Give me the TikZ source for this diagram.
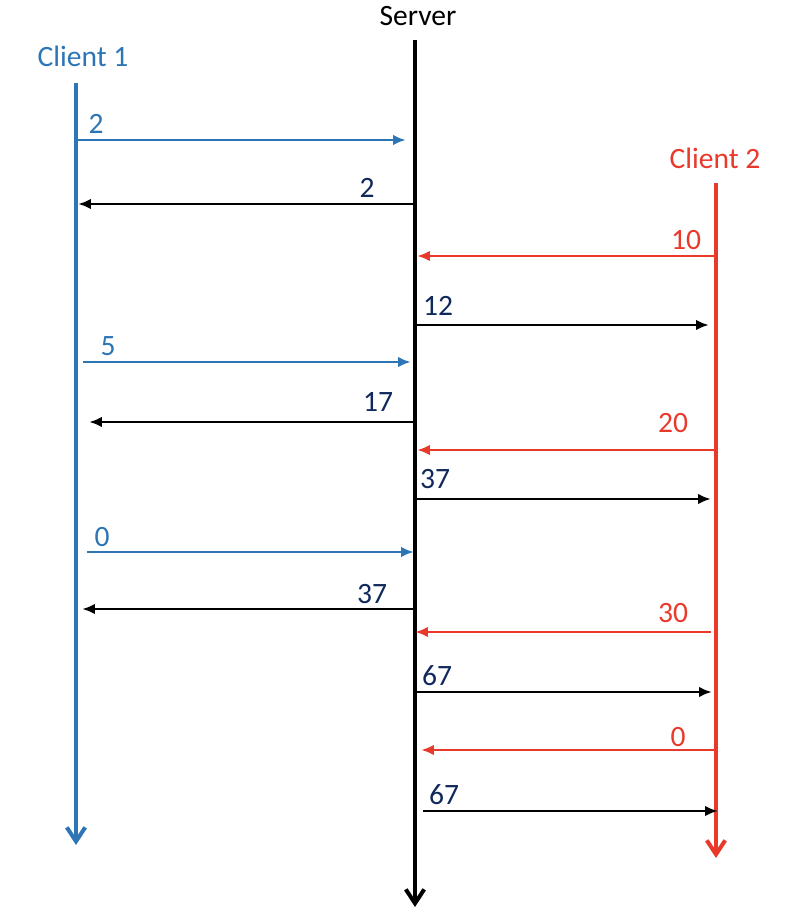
\documentclass[tikz,border=0pt]{standalone}
\usepackage{fontspec}
\setmainfont{Carlito}
\usetikzlibrary{arrows.meta}
\definecolor{cblue}{HTML}{2E75B6}
\definecolor{cred}{HTML}{E8392B}
\definecolor{cnavy}{HTML}{10285C}
\tikzset {>={Latex[length=3.2mm,width=2.6mm]}}

\begin{document}
\begin{tikzpicture}[x=0.025cm,y=-0.025cm,
  lane/.style={line width=1mm,-{Straight Barb[length=3.5mm,width=4.6mm]}},
  msg/.style={line width=0.7mm,->},
  lbl/.style={font=\fontsize{21}{25}\selectfont,inner sep=0pt}]
\useasboundingbox (0,0) rectangle (800,910);
% the three lifelines
\node[lbl] (server) at (418,16) {Server};
\node[lbl,cblue] (client1) at (83,56) {Client 1};
\node[lbl,cred] (client2) at (715,158) {Client 2};
\coordinate (s top) at (415,40);  \coordinate (s bot) at (415,907);
\coordinate (c1 top) at (76,83);  \coordinate (c1 bot) at (76,845);
\coordinate (c2 top) at (716,183); \coordinate (c2 bot) at (716,858);
\draw[lane] (s top) -- (s bot);
\draw[lane,cblue] (c1 top) -- (c1 bot);
\draw[lane,cred] (c2 top) -- (c2 bot);
% messages: number/colour/from/to/y/text/text colour/text x/text y
\foreach \n/\c/\xa/\xb/\y/\t/\tc/\lx/\ly in {
  1/cblue/76/406/140/2/cblue/96/124,
  2/black/415/78/204/2/cnavy/367/188,
  3/cred/716/417/256/10/cred/686/240,
  4/black/415/709/325/12/cnavy/438/306,
  5/cblue/83/411/362/5/cblue/108/346,
  6/black/415/89/422/17/cnavy/378/402,
  7/cred/716/417/450/20/cred/673/423,
  8/black/415/711/499/37/cnavy/435/479,
  9/cblue/87/414/552/0/cblue/102/537,
  10/black/413/82/609/37/cnavy/372/594,
  11/cred/711/415/632/30/cred/673/613,
  12/black/415/712/692/67/cnavy/437/676,
  13/cred/716/421/750/0/cred/678/737,
  14/black/423/718/811/67/cnavy/444/795} {
  \coordinate (m\n a) at (\xa,\y);
  \coordinate (m\n b) at (\xb,\y);
  \node[lbl,\tc] (t\n) at (\lx,\ly) {\t};
  \draw[msg,\c] (m\n a) -- (m\n b);
}
\end{tikzpicture}
\end{document}
